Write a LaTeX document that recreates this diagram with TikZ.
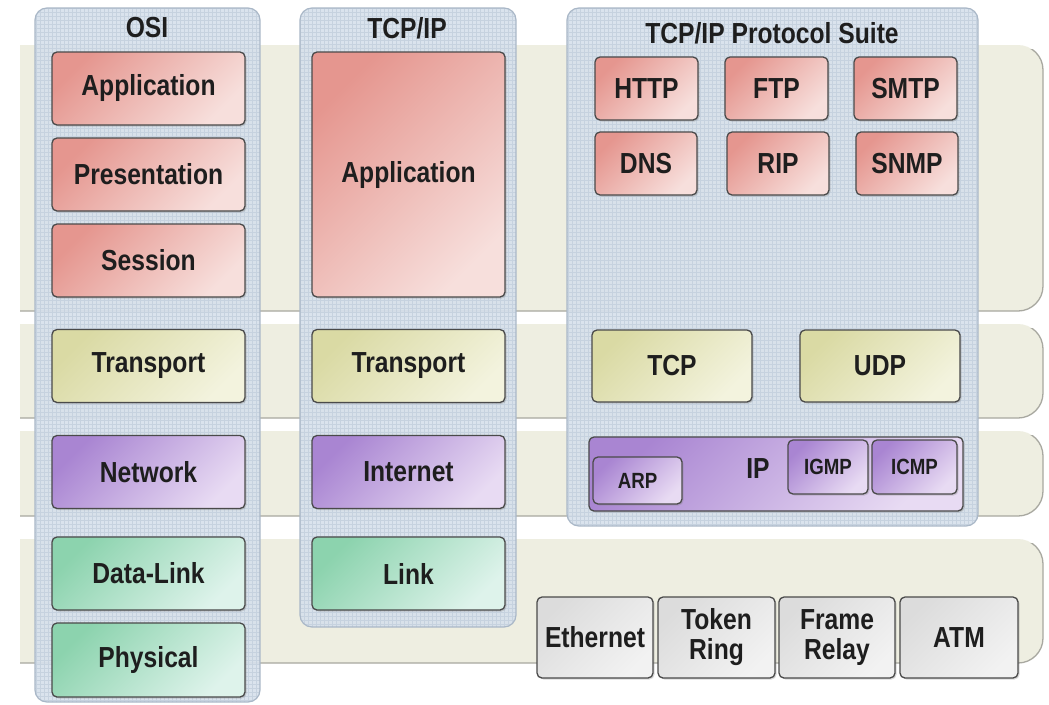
\documentclass[tikz,border=0pt]{standalone}
\usepackage{fontspec}
\setmainfont{Liberation Sans}[FakeStretch=0.85]
\usetikzlibrary{shadows}
\definecolor{bandc}{HTML}{EEEEE1}
\definecolor{bandline}{HTML}{A8A8A0}
\definecolor{panelc}{HTML}{D6E0EC}
\definecolor{gridc}{HTML}{C6D2DF}
\definecolor{panelline}{HTML}{A9B7C7}
\definecolor{boxline}{HTML}{4A4A4A}
\definecolor{txt}{HTML}{1E1E1E}
\definecolor{redA}{HTML}{E5968F}
\definecolor{redB}{HTML}{F7DFDC}
\definecolor{yelA}{HTML}{DADAA4}
\definecolor{yelB}{HTML}{F3F3DE}
\definecolor{purA}{HTML}{A985D2}
\definecolor{purB}{HTML}{E8DBF3}
\definecolor{grnA}{HTML}{8CD3AE}
\definecolor{grnB}{HTML}{DEF3EB}
\definecolor{gryA}{HTML}{DCDCDC}
\definecolor{gryB}{HTML}{F2F2F2}
\newcommand\lbl{\fontsize{29}{30}\selectfont\bfseries}
\newcommand\ttl{\fontsize{29}{30}\selectfont\bfseries}
\newcommand\sml{\fontsize{22}{24}\selectfont\bfseries}
\newcommand\bx[6]{\node[#1, minimum width=#4 pt, minimum height=#5 pt] (#2) at (#3) {#6};}
\newcommand\band[2]{%
  \begin{scope}
    \clip (20,0) rectangle (1049,704);
    \fill[bandc, rounded corners=25pt] (-20,#1) rectangle (1043,#2);
  \end{scope}
  \begin{scope}
    \clip (20,#1+4) rectangle (1049,#2+3);
    \draw[bandline, line width=1.3pt, rounded corners=25pt] (-20,#1) rectangle (1043,#2);
  \end{scope}}
\newcommand\panel[4]{%
  \begin{scope}
    \clip[rounded corners=12pt] (#1,#2) rectangle (#3,#4);
    \fill[panelc, fill opacity=0.9] (#1,#2) rectangle (#3,#4);
    \draw[gridc, line width=0.4pt, step=4pt] (#1,#2) grid (#3,#4);
  \end{scope}
  \draw[panelline, line width=1.2pt, rounded corners=12pt] (#1,#2) rectangle (#3,#4);}
\tikzset{
  box/.style={draw=boxline, line width=1.3pt, rounded corners=5pt, inner sep=0pt,
    font=\lbl, text=txt, align=center,
    drop shadow={shadow xshift=1.5pt, shadow yshift=-1.5pt, opacity=0.3}},
  redbox/.style={box, top color=redA, bottom color=redB, shading angle=45},
  yelbox/.style={box, top color=yelA, bottom color=yelB, shading angle=45},
  purbox/.style={box, top color=purA, bottom color=purB, shading angle=45},
  grnbox/.style={box, top color=grnA, bottom color=grnB, shading angle=45},
  grybox/.style={box, top color=gryA, bottom color=gryB, shading angle=45},
  smallpur/.style={purbox, font=\sml},
  title/.style={font=\ttl, text=txt, inner sep=0pt}
}
\begin{document}
\begin{tikzpicture}[x=1pt, y=-1pt]
\useasboundingbox[fill=white] (0,0) rectangle (1049,704);
% layer bands
\band{45}{311}
\band{324}{418}
\band{431}{516}
\band{539}{663}
% column panels
\panel{35}{8}{260}{702}
\panel{300}{8}{516}{627}
\panel{567}{8}{978}{526}
% titles
\node[title] (tosi) at (147,28) {OSI};
\node[title] (ttcp) at (407,28) {TCP/IP};
\node[title] (tsuite) at (772,33) {TCP/IP Protocol Suite};
% OSI column
\bx{redbox}{osiapp}{148.5,88.5}{193}{73}{Application}
\bx{redbox}{osipres}{148.5,174.5}{193}{73}{Presentation}
\bx{redbox}{osisess}{148.5,260.5}{193}{73}{Session}
\bx{yelbox}{ositrans}{148.5,366}{193}{73}{Transport}
\bx{purbox}{osinet}{148.5,472}{193}{73}{Network}
\bx{grnbox}{osidl}{148.5,573.5}{193}{73}{Data-Link}
\bx{grnbox}{osiphy}{148.5,660}{193}{74}{Physical}
% TCP/IP column
\bx{redbox}{tapp}{408.5,174.5}{193}{245}{Application}
\bx{yelbox}{ttrans}{408.5,366}{193}{73}{Transport}
\bx{purbox}{tinet}{408.5,472}{193}{73}{Internet}
\bx{grnbox}{tlink}{408.5,573.5}{193}{73}{Link}
% protocol suite
\bx{redbox}{http}{646.5,88.5}{103}{63}{HTTP}
\bx{redbox}{ftp}{776.5,88.5}{103}{63}{FTP}
\bx{redbox}{smtp}{905.5,88.5}{103}{63}{SMTP}
\bx{redbox}{dns}{646,163.5}{102}{63}{DNS}
\bx{redbox}{rip}{778,163.5}{102}{63}{RIP}
\bx{redbox}{snmp}{907,163.5}{102}{63}{SNMP}
\bx{yelbox}{tcp}{672,366}{160}{72}{TCP}
\bx{yelbox}{udp}{880,366}{160}{72}{UDP}
\bx{purbox}{ip}{776,474}{374}{74}{}
\node[font=\lbl, text=txt, inner sep=0pt] (iplbl) at (758,469) {IP};
\bx{smallpur}{arp}{637.5,480.5}{89}{47}{ARP}
\bx{smallpur}{igmp}{828,467}{80}{54}{IGMP}
\bx{smallpur}{icmp}{914.5,467}{85}{54}{ICMP}
% link technologies
\bx{grybox}{eth}{595,637.5}{116}{81}{Ethernet}
\bx{grybox}{token}{716.5,637.5}{117}{81}{Token\\Ring}
\bx{grybox}{frame}{837,637.5}{116}{81}{Frame\\Relay}
\bx{grybox}{atm}{959,637.5}{118}{81}{ATM}
\end{tikzpicture}
\end{document}
